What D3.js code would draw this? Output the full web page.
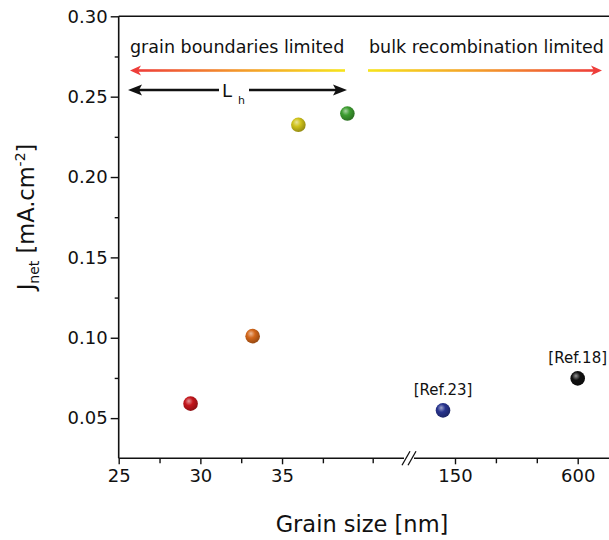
<!DOCTYPE html>
<html>
<head>
<meta charset="utf-8">
<script src="https://cdn.jsdelivr.net/npm/d3@7"></script>
<style>
  body { margin: 0; background: #fff; }
  text { font-family: "DejaVu Sans", "Liberation Sans", Arial, sans-serif; fill: #111; }
</style>
</head>
<body>
<div id="grafico"></div>
<script>
// grain size [nm] and J_net [mA.cm-2]
const grainSize = [29.4, 33.2, 36.0, 39.0, 106, 600];
const jNet = [0.059, 0.101, 0.2325, 0.2395, 0.0548, 0.0747];
const refLabels = ['', '', '', '', '[Ref.23]', '[Ref.18]'];
const ballColors = ['#c4161c', '#d2661a', '#cfc21a', '#3c9c30', '#28348e', '#111111'];

const xTicksLow = [25, 30, 35];
const xTicksHigh = [150, 600];
const yTicks = [0.05, 0.10, 0.15, 0.20, 0.25, 0.30];

const largura = 609, altura = 540;
const svg = d3.select('#grafico').append('svg')
  .attr('width', largura).attr('height', altura);

// two x segments (broken axis)
const x1 = d3.scaleLinear().domain([25, 40.55]).range([118.7, 372.7]);
const x2 = d3.scaleLinear().domain([150, 600]).range([455, 577.7]);
const xPos = v => v <= 40.55 ? x1(v) : x2(v);
const y = d3.scaleLinear().domain([0.025, 0.30]).range([458.3, 16.3]);

const esq = 118.7, dir = 609, baixo = 458.3, topo = 16.3;
const breakL = 404, breakR = 414;

// frame
svg.append('line').attr('x1', esq).attr('x2', dir).attr('y1', topo).attr('y2', topo)
  .attr('stroke', '#111').attr('stroke-width', 1.6);

// y axis
const yAxis = svg.append('g').attr('transform', `translate(${esq},0)`)
  .call(d3.axisLeft(y).tickValues(yTicks).tickFormat(d3.format('.2f')).tickSize(8).tickPadding(3));
yAxis.select('.domain').remove();
yAxis.selectAll('line').attr('stroke', '#111').attr('stroke-width', 1.4);
yAxis.selectAll('text').style('font-size', '18px').attr('fill', '#111');
svg.append('g').attr('transform', `translate(${esq},0)`)
  .call(d3.axisLeft(y).tickValues(d3.range(0.075, 0.3, 0.05)).tickFormat('').tickSize(4))
  .call(g => g.select('.domain').remove())
  .selectAll('line').attr('stroke', '#111').attr('stroke-width', 1.4);
svg.append('line').attr('x1', esq).attr('x2', esq).attr('y1', topo).attr('y2', baixo)
  .attr('stroke', '#111').attr('stroke-width', 1.6);

// x axis, low segment
const xa1 = svg.append('g').attr('transform', `translate(0,${baixo})`)
  .call(d3.axisBottom(x1).tickValues(xTicksLow).tickSize(6).tickPadding(5));
xa1.select('.domain').remove();
xa1.selectAll('line').attr('stroke', '#111').attr('stroke-width', 1.4);
xa1.selectAll('text').style('font-size', '18px');
svg.append('g').attr('transform', `translate(0,${baixo})`)
  .call(d3.axisBottom(x1).tickValues([27.5, 32.5, 37.5, 40.55]).tickFormat('').tickSize(5))
  .call(g => g.select('.domain').remove())
  .selectAll('line').attr('stroke', '#111').attr('stroke-width', 1.4);

// x axis, high segment
const xa2 = svg.append('g').attr('transform', `translate(0,${baixo})`)
  .call(d3.axisBottom(x2).tickValues(xTicksHigh).tickSize(6).tickPadding(5));
xa2.select('.domain').remove();
xa2.selectAll('line').attr('stroke', '#111').attr('stroke-width', 1.4);
xa2.selectAll('text').style('font-size', '18px');
svg.append('g').attr('transform', `translate(0,${baixo})`)
  .call(d3.axisBottom(x2).tickValues([300, 450]).tickFormat('').tickSize(5))
  .call(g => g.select('.domain').remove())
  .selectAll('line').attr('stroke', '#111').attr('stroke-width', 1.4);

// axis line with break
svg.append('line').attr('x1', esq).attr('x2', breakL).attr('y1', baixo).attr('y2', baixo)
  .attr('stroke', '#111').attr('stroke-width', 1.6);
svg.append('line').attr('x1', breakR).attr('x2', dir).attr('y1', baixo).attr('y2', baixo)
  .attr('stroke', '#111').attr('stroke-width', 1.6);
[breakL, breakR - 4].forEach(bx => {
  svg.append('line').attr('x1', bx - 2).attr('x2', bx + 6).attr('y1', baixo + 7).attr('y2', baixo - 7)
    .attr('stroke', '#111').attr('stroke-width', 1.3);
});

// axis titles
svg.append('text').attr('x', 362).attr('y', 532).attr('text-anchor', 'middle')
  .style('font-size', '22.5px').text('Grain size [nm]');
const yl = svg.append('text').attr('transform', 'translate(34,217) rotate(-90)')
  .attr('text-anchor', 'middle').style('font-size', '22.5px');
yl.append('tspan').text('J');
yl.append('tspan').attr('dy', 5).style('font-size', '14px').text('net');
yl.append('tspan').attr('dy', -5).text(' [mA.cm');
yl.append('tspan').attr('dy', -9).style('font-size', '14px').text('-2');
yl.append('tspan').attr('dy', 9).text(']');

// gradients
const defs = svg.append('defs');
const gl = defs.append('linearGradient').attr('id', 'gLeft').attr('x1', '0%').attr('x2', '100%');
gl.append('stop').attr('offset', '0%').attr('stop-color', '#ee3d3a');
gl.append('stop').attr('offset', '50%').attr('stop-color', '#f39a2b');
gl.append('stop').attr('offset', '100%').attr('stop-color', '#f6e41c');
const gr = defs.append('linearGradient').attr('id', 'gRight').attr('x1', '0%').attr('x2', '100%');
gr.append('stop').attr('offset', '0%').attr('stop-color', '#f6e41c');
gr.append('stop').attr('offset', '50%').attr('stop-color', '#f39a2b');
gr.append('stop').attr('offset', '100%').attr('stop-color', '#ee3d3a');

ballColors.forEach((c, i) => {
  const g = defs.append('radialGradient').attr('id', 'ball' + i)
    .attr('cx', '40%').attr('cy', '38%').attr('r', '62%').attr('fx', '38%').attr('fy', '32%');
  g.append('stop').attr('offset', '0%').attr('stop-color', d3.interpolateRgb(c, '#fff')(0.55));
  g.append('stop').attr('offset', '45%').attr('stop-color', c);
  g.append('stop').attr('offset', '100%').attr('stop-color', d3.color(c).darker(0.9));
});

// region annotations
svg.append('text').attr('x', 130).attr('y', 53).style('font-size', '17.5px').text('grain boundaries limited');
svg.append('text').attr('x', 369).attr('y', 53).style('font-size', '17.5px').text('bulk recombination limited');

const ay = 70.5;
svg.append('rect').attr('x', 136).attr('y', ay - 1.3).attr('width', 209).attr('height', 2.6).attr('fill', 'url(#gLeft)');
svg.append('path').attr('d', `M130,${ay} L141,${ay - 5} L138,${ay} L141,${ay + 5} Z`).attr('fill', '#ee3d3a');
svg.append('rect').attr('x', 368).attr('y', ay - 1.3).attr('width', 228).attr('height', 2.6).attr('fill', 'url(#gRight)');
svg.append('path').attr('d', `M602,${ay} L591,${ay - 5} L594,${ay} L591,${ay + 5} Z`).attr('fill', '#ee3d3a');

// L_h arrow
const by = 90;
svg.append('line').attr('x1', 134).attr('x2', 219).attr('y1', by).attr('y2', by).attr('stroke', '#111').attr('stroke-width', 2.5);
svg.append('line').attr('x1', 249).attr('x2', 341).attr('y1', by).attr('y2', by).attr('stroke', '#111').attr('stroke-width', 2.5);
svg.append('path').attr('d', `M128,${by} L142,${by - 5.5} L139,${by} L142,${by + 5.5} Z`).attr('fill', '#111');
svg.append('path').attr('d', `M347,${by} L333,${by - 5.5} L336,${by} L333,${by + 5.5} Z`).attr('fill', '#111');
svg.append('text').attr('x', 222).attr('y', 97).style('font-size', '18px').text('L');
svg.append('text').attr('x', 238).attr('y', 104).style('font-size', '11px').text('h');

// points
const idx = d3.range(grainSize.length);
svg.selectAll('.ball').data(idx).enter().append('circle')
  .attr('class', 'ball')
  .attr('cx', i => xPos(grainSize[i]))
  .attr('cy', i => y(jNet[i]))
  .attr('r', 7.3)
  .attr('fill', i => `url(#ball${i})`);

svg.selectAll('.ref').data(idx.filter(i => refLabels[i])).enter().append('text')
  .attr('class', 'ref')
  .attr('x', i => xPos(grainSize[i]))
  .attr('y', i => y(jNet[i]) - 15)
  .attr('text-anchor', 'middle')
  .style('font-size', '15px')
  .text(i => refLabels[i]);
</script>
</body>
</html>
